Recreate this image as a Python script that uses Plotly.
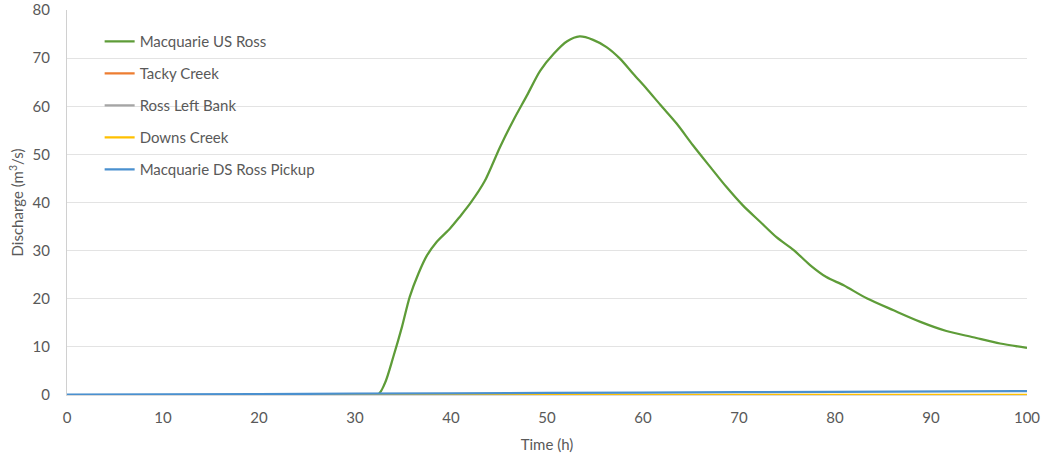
import plotly.graph_objects as go

# Hydrograph at Ross: discharge (m3/s) against time (h)
time_us = [0, 32.3, 33.1, 34.0, 34.9, 35.7, 36.6, 37.5, 38.5, 39.9, 40.9, 42.0,
           43.5, 45.1, 46.5, 47.9, 49.3, 50.7, 52.1, 53.4, 54.8, 56.2, 57.6,
           59.0, 60.4, 61.8, 63.5, 65.2, 67.0, 68.7, 70.4, 72.2, 73.9, 75.7,
           77.4, 79.1, 80.9, 83.3, 86.1, 88.9, 91.6, 94.4, 97.2, 100]
macquarie_us_ross = [0, 0, 2.4, 8.0, 14.2, 20.4, 25.2, 29.0, 31.8, 34.6, 37.0, 39.8,
                     44.4, 51.5, 57.1, 62.2, 67.4, 70.9, 73.5, 74.5, 73.8, 72.3, 69.9,
                     66.7, 63.6, 60.3, 56.4, 51.9, 47.4, 43.2, 39.4, 36.0, 32.8, 30.1,
                     27.0, 24.5, 22.8, 20.1, 17.6, 15.2, 13.3, 12.0, 10.7, 9.8]

time_small = [0, 20, 40, 60, 80, 100]
tacky_creek = [0, 0, 0, 0, 0, 0]
ross_left_bank = [0, 0, 0, 0, 0, 0]
downs_creek = [0, 0, 0.05, 0.05, 0.05, 0.05]
macquarie_ds_ross_pickup = [0.1, 0.2, 0.35, 0.5, 0.65, 0.8]

series = [
    ("Macquarie US Ross", time_us, macquarie_us_ross, "#5E9C38"),
    ("Tacky Creek", time_small, tacky_creek, "#ED7D31"),
    ("Ross Left Bank", time_small, ross_left_bank, "#A5A5A5"),
    ("Downs Creek", time_small, downs_creek, "#FFC000"),
    ("Macquarie DS Ross Pickup", time_small, macquarie_ds_ross_pickup, "#4A90CF"),
]

x_ticks = [0, 10, 20, 30, 40, 50, 60, 70, 80, 90, 100]
y_ticks = [0, 10, 20, 30, 40, 50, 60, 70, 80]

font_family = "Lato, 'Open Sans', sans-serif"
text_grey = "#595959"

fig = go.Figure()
for i, (name, t, q, color) in enumerate(series):
    fig.add_trace(go.Scatter(
        x=t, y=q, name=name, mode="lines",
        line=dict(color=color, width=2.25, shape="spline", smoothing=0.8),
        legendgroup=f"g{i}",
    ))

fig.update_layout(
    width=1046, height=459,
    margin=dict(l=67, r=19, t=10, b=64),
    paper_bgcolor="white", plot_bgcolor="white",
    font=dict(family=font_family, size=15, color=text_grey),
    showlegend=True,
    legend=dict(
        x=0.034, y=0.961, xanchor="left", yanchor="top",
        bgcolor="rgba(255,255,255,0)",
        font=dict(family=font_family, size=15, color=text_grey),
        traceorder="grouped", tracegroupgap=9.5,
    ),
    xaxis=dict(
        range=[0, 100], tickvals=x_ticks, showgrid=False, zeroline=False,
        showline=True, linecolor="#D9D9D9", linewidth=1, automargin=False,
        ticks="", ticklabelstandoff=9,
        tickfont=dict(size=15, color=text_grey),
        title=dict(text="Time (h)", font=dict(size=15, color=text_grey), standoff=14),
    ),
    yaxis=dict(
        range=[0, 80], tickvals=y_ticks, showgrid=True, gridcolor="#E3E3E3",
        gridwidth=1, zeroline=False, showline=True, linecolor="#D0D0D0",
        linewidth=1, automargin=False, ticks="", ticklabelstandoff=13,
        tickfont=dict(size=15, color=text_grey),
        title=dict(text="Discharge (m<sup>3</sup>/s)", font=dict(size=15, color=text_grey),
                   standoff=5),
    ),
)

fig.write_html("out.html")
